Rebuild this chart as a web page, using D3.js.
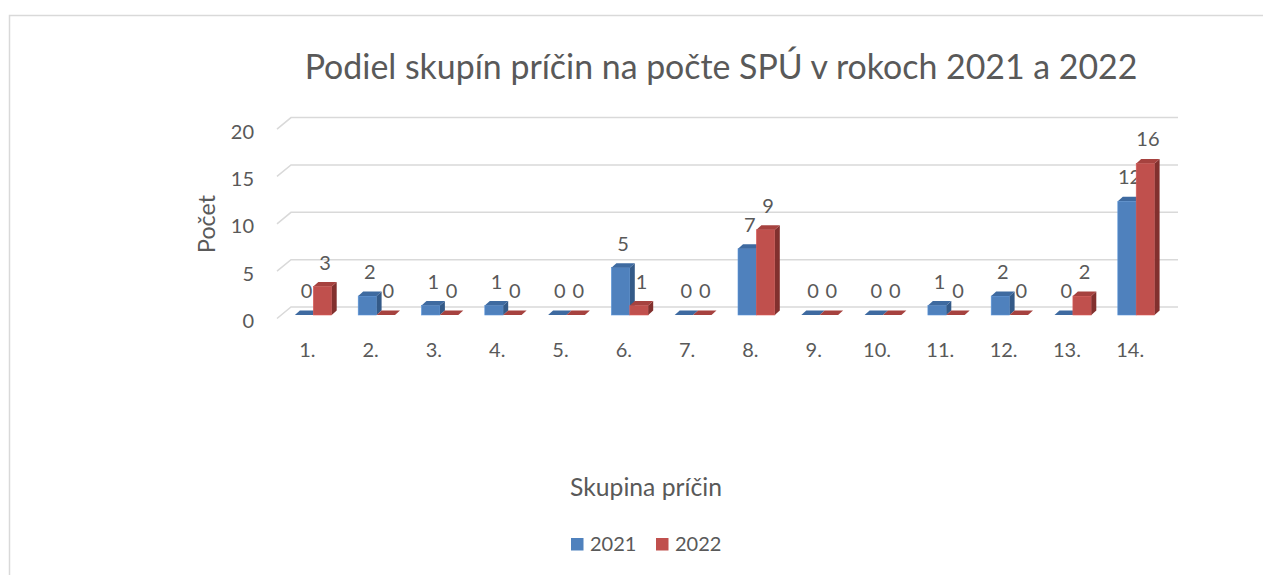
<!DOCTYPE html>
<html>
<head>
<meta charset="utf-8">
<script src="https://cdn.jsdelivr.net/npm/d3@7"></script>
<style>
  html, body { margin: 0; padding: 0; background: #ffffff; }
  svg { display: block; }
  text { font-family: Lato, "Open Sans", sans-serif; fill: #595959; }
</style>
</head>
<body>
<script>
const categories = ["1.", "2.", "3.", "4.", "5.", "6.", "7.", "8.", "9.", "10.", "11.", "12.", "13.", "14."];
const series = ["2021", "2022"];
const values2021 = [0, 2, 1, 1, 0, 5, 0, 7, 0, 0, 1, 2, 0, 12];
const values2022 = [3, 0, 0, 0, 0, 1, 0, 9, 0, 0, 0, 0, 2, 16];
const yTicks = [0, 5, 10, 15, 20];
const title = "Podiel skupín príčin na počte SPÚ v rokoch 2021 a 2022";
const yTitle = "Počet";
const xTitle = "Skupina príčin";

const W = 1263, H = 575;
const colors = {
  "2021": { front: "#4f81bd", top: "#3e6aa0", side: "#345a88" },
  "2022": { front: "#c0504d", top: "#a6423f", side: "#82302e" }
};

const svg = d3.select("body").append("svg").attr("width", W).attr("height", H);

// chart border
svg.append("rect").attr("x", 9.5).attr("y", 15.5).attr("width", W + 20).attr("height", H + 20)
  .attr("fill", "none").attr("stroke", "#d9d9d9").attr("stroke-width", 1.5);

function fitText(sel, target, base) {
  sel.style("font-size", base + "px");
  const w = sel.node().getComputedTextLength();
  sel.style("font-size", (base * target / w) + "px");
}

// scales
const wallDx = 14, wallDy = -11.5;          // floor depth (front -> back wall)
const y = d3.scaleLinear().domain([0, 20]).range([307, 117.6]); // back wall
const barOffsetY = 8;                          // bars stand in middle of floor
const x = d3.scaleBand().domain(categories).range([281.65, 281.65 + 14 * 63.3]).paddingInner(0).paddingOuter(0);
const barW = 18.4;
const xs = d3.scaleBand().domain(series).range([-barW, barW]);
const bDx = 5, bDy = -4.5;                     // bar depth

// gridlines on back wall + side wall diagonals
const gx0 = 291, gx1 = 1178;
const grid = svg.append("g");
yTicks.forEach(t => {
  const yy = y(t);
  grid.append("path")
    .attr("d", `M${gx0 - wallDx},${yy - wallDy} L${gx0},${yy} L${gx1},${yy}`)
    .attr("fill", "none").attr("stroke", "#d9d9d9").attr("stroke-width", 1.5);
});

// y tick labels
svg.append("g").selectAll("text").data(yTicks).join("text")
  .attr("x", 254).attr("y", d => y(d) - wallDy + 9.5)
  .attr("text-anchor", "end").style("font-size", "20px").text(d => d);

// bars
const data = categories.map((c, i) => ({ cat: c, vals: [{ s: "2021", v: values2021[i] }, { s: "2022", v: values2022[i] }] }));
const barsG = svg.append("g");
const yBar = v => y(v) + barOffsetY;
data.forEach(g => {
  const cx = x(g.cat) + x.bandwidth() / 2;
  g.vals.forEach(d => {
    const x1 = cx + xs(d.s), x2 = x1 + xs.bandwidth();
    const yt = yBar(d.v), yb = yBar(0);
    const c = colors[d.s];
    const bg = barsG.append("g");
    if (d.v > 0) {
      bg.append("rect").attr("x", x1).attr("y", yt).attr("width", x2 - x1).attr("height", yb - yt)
        .attr("fill", c.front).attr("stroke", d3.color(c.front).brighter(0.4)).attr("stroke-width", 0.6);
      bg.append("path").attr("d", `M${x2},${yt} L${x2 + bDx},${yt + bDy} L${x2 + bDx},${yb + bDy} L${x2},${yb} Z`)
        .attr("fill", c.side);
    }
    bg.append("path").attr("d", `M${x1},${yt} L${x2},${yt} L${x2 + bDx},${yt + bDy} L${x1 + bDx},${yt + bDy} Z`)
      .attr("fill", c.top);
    // data label
    bg.append("text").attr("x", (x1 + x2) / 2 + bDx / 2).attr("y", yt - 17)
      .attr("text-anchor", "middle").style("font-size", "20px").text(d.v);
  });
});

// x category labels
svg.append("g").selectAll("text").data(categories).join("text")
  .attr("x", d => x(d) + x.bandwidth() / 2 - 6).attr("y", 357)
  .attr("text-anchor", "middle").style("font-size", "20px").text(d => d);

// title
const tt = svg.append("text").attr("x", 721).attr("y", 79).attr("text-anchor", "middle").text(title);
fitText(tt, 833, 30);

// axis titles
const yt = svg.append("text").attr("transform", "translate(215,224) rotate(-90)").attr("text-anchor", "middle").text(yTitle);
fitText(yt, 58, 20);
const xt = svg.append("text").attr("x", 646).attr("y", 496).attr("text-anchor", "middle").text(xTitle);
fitText(xt, 152, 20);

// legend
const legX = [571, 656];
const leg = svg.append("g");
series.forEach((s, i) => {
  leg.append("rect").attr("x", legX[i]).attr("y", 538).attr("width", 12.5).attr("height", 12.5).attr("fill", colors[s].front);
  leg.append("text").attr("x", legX[i] + 19).attr("y", 551).style("font-size", "20px").text(s);
});
</script>
</body>
</html>
